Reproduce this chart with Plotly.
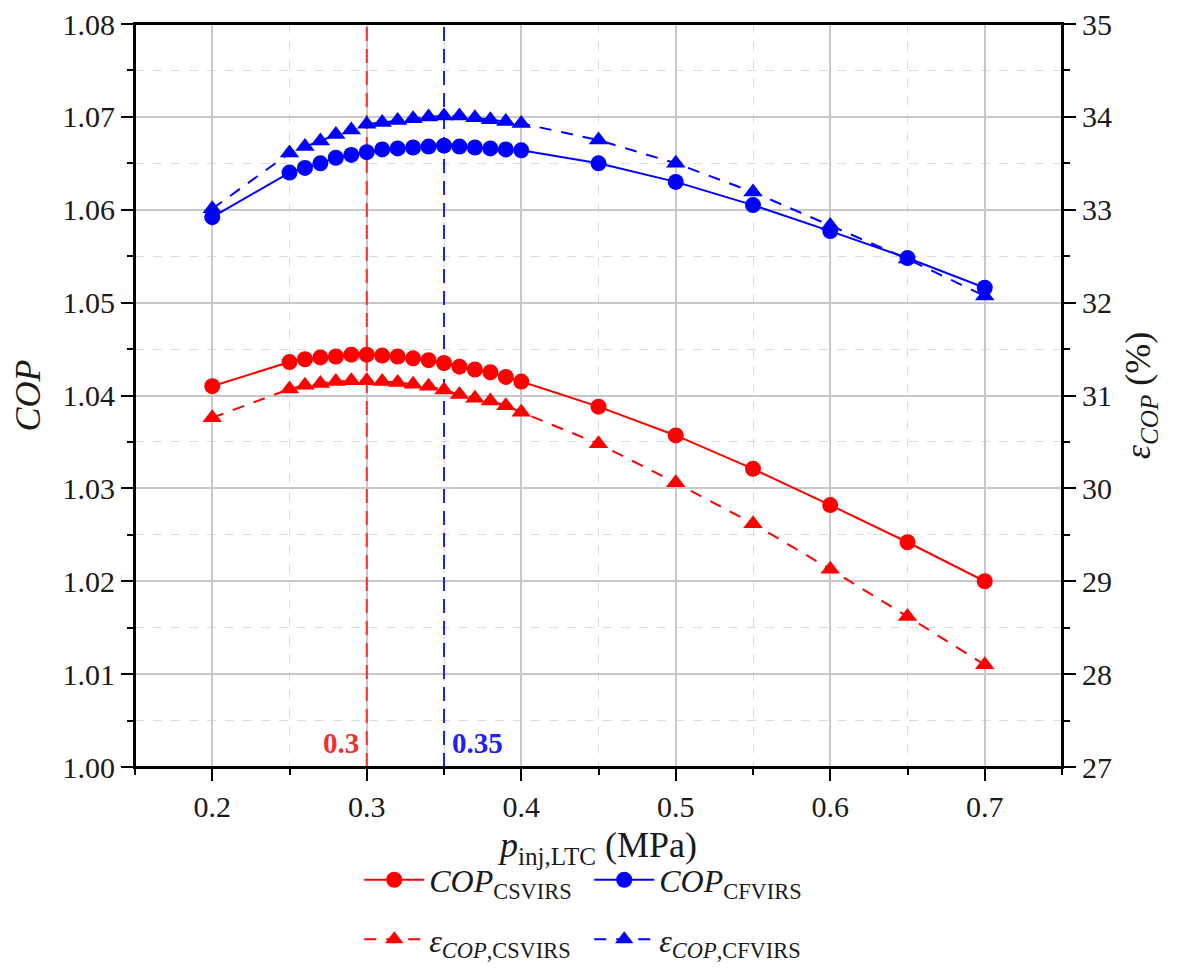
import plotly.graph_objects as go

# injection pressure of the LTC (MPa)
p_inj = [0.20, 0.25, 0.26, 0.27, 0.28, 0.29, 0.30, 0.31, 0.32, 0.33, 0.34, 0.35,
         0.36, 0.37, 0.38, 0.39, 0.40, 0.45, 0.50, 0.55, 0.60, 0.65, 0.70]

# COP of both systems (left axis)
cop_csvirs = [1.0410, 1.0436, 1.0439, 1.0441, 1.0442, 1.0444, 1.0444, 1.0443, 1.0442, 1.0440, 1.0438, 1.0435,
              1.0431, 1.0428, 1.0425, 1.0420, 1.0415, 1.0388, 1.0357, 1.0321, 1.0282, 1.0242, 1.0200]
cop_cfvirs = [1.0592, 1.0640, 1.0645, 1.0650, 1.0656, 1.0659, 1.0662, 1.0665, 1.0666, 1.0667, 1.0668, 1.0669,
              1.0668, 1.0667, 1.0666, 1.0665, 1.0664, 1.0650, 1.0630, 1.0605, 1.0577, 1.0548, 1.0516]

# exergy efficiency (%) (right axis)
eps_csvirs = [30.76, 31.07, 31.11, 31.13, 31.15, 31.16, 31.16, 31.15, 31.14, 31.12, 31.10, 31.06,
              31.01, 30.97, 30.94, 30.89, 30.82, 30.48, 30.06, 29.62, 29.13, 28.62, 28.10]
eps_cfvirs = [33.01, 33.61, 33.68, 33.74, 33.81, 33.86, 33.92, 33.94, 33.96, 33.98, 34.00, 34.01,
              34.01, 33.99, 33.97, 33.95, 33.93, 33.75, 33.50, 33.19, 32.83, 32.47, 32.07]

# optimum injection pressures marked on the chart
opt_p = [0.3, 0.35]
opt_labels = ["0.3", "0.35"]

COP_RANGE = [1.0, 1.08]
EPS_RANGE = [27, 35]

RED = "#ff0000"
BLUE = "#0000ff"
FONT = "Liberation Serif, Times New Roman, serif"
TXT = "#1a1a1a"

fig = go.Figure()

# vertical dashed markers for the optimum pressures (drawn first, under the curves)
for p, lab, col in zip(opt_p, opt_labels, ["#f03030", "#2020ff"]):
    fig.add_trace(go.Scatter(
        x=[p, p], y=COP_RANGE, mode="lines", showlegend=False, hoverinfo="skip",
        line=dict(color=col, width=2, dash="14px,8px")))
    first = p == opt_p[0]
    fig.add_annotation(x=p, y=0.008, xref="x", yref="paper",
                       text="<b>" + lab + "</b>", showarrow=False,
                       xanchor="right" if first else "left", yanchor="bottom",
                       xshift=-6 if first else 6,
                       font=dict(family=FONT, size=29, color=col))

fig.add_trace(go.Scatter(
    x=p_inj, y=cop_csvirs, name="<i>COP</i><sub>CSVIRS</sub>",
    mode="lines+markers", line=dict(color=RED, width=2),
    marker=dict(symbol="circle", size=16, color=RED),
    legend="legend"))
fig.add_trace(go.Scatter(
    x=p_inj, y=cop_cfvirs, name="<i>COP</i><sub>CFVIRS</sub>",
    mode="lines+markers", line=dict(color=BLUE, width=2),
    marker=dict(symbol="circle", size=16, color=BLUE),
    legend="legend"))
fig.add_trace(go.Scatter(
    x=p_inj, y=eps_csvirs, name="<i>ε</i><sub><i>COP</i>,CSVIRS</sub>",
    mode="lines+markers", line=dict(color=RED, width=2, dash="12px,10px"),
    marker=dict(symbol="triangle-up", size=17, color=RED),
    yaxis="y2", legend="legend2"))
fig.add_trace(go.Scatter(
    x=p_inj, y=eps_cfvirs, name="<i>ε</i><sub><i>COP</i>,CFVIRS</sub>",
    mode="lines+markers", line=dict(color=BLUE, width=2, dash="12px,10px"),
    marker=dict(symbol="triangle-up", size=17, color=BLUE),
    yaxis="y2", legend="legend2"))

# plot frame (top edge included)
fig.add_shape(type="rect", xref="paper", yref="paper", x0=0, x1=1, y0=0, y1=1,
              line=dict(color="black", width=2), layer="above")

axis_common = dict(
    showline=True, linecolor="black", linewidth=2,
    ticks="outside", ticklen=12, tickwidth=2, tickcolor="black",
    tickfont=dict(family=FONT, size=30, color=TXT),
    ticklabeloverflow="allow",
    zeroline=False, automargin=False,
)

fig.update_layout(
    width=1182, height=978,
    # the page body adds 8px, so margins are trimmed by that amount
    margin=dict(l=127, r=128, t=16, b=219),
    paper_bgcolor="white", plot_bgcolor="white",
    font=dict(family=FONT, size=30, color=TXT),
    showlegend=True,
    xaxis=dict(
        range=[0.15, 0.75], tick0=0.2, dtick=0.1, tickformat=".1f",
        mirror=True,
        showgrid=True, gridcolor="#c8c8c8", gridwidth=1.5,
        minor=dict(dtick=0.05, tick0=0.15, ticks="outside", ticklen=6, tickwidth=2,
                   tickcolor="black", showgrid=True, gridcolor="#dcdcdc",
                   griddash="dash", gridwidth=1),
        title=dict(text="<i>p</i><sub>inj,LTC</sub> (MPa)",
                   font=dict(family=FONT, size=36, color=TXT), standoff=10),
        **axis_common),
    yaxis=dict(
        range=COP_RANGE, tick0=1.0, dtick=0.01, tickformat=".2f",
        showgrid=True, gridcolor="#c8c8c8", gridwidth=1.5,
        minor=dict(dtick=0.005, ticks="outside", ticklen=6, tickwidth=2,
                   tickcolor="black", showgrid=True, gridcolor="#dcdcdc",
                   griddash="dash", gridwidth=1),
        title=dict(text="<i>COP</i>", font=dict(family=FONT, size=36, color=TXT),
                   standoff=12),
        **axis_common),
    yaxis2=dict(
        range=EPS_RANGE, tick0=27, dtick=1, overlaying="y", side="right",
        showgrid=False,
        minor=dict(dtick=0.5, ticks="outside", ticklen=6, tickwidth=2, tickcolor="black"),
        title=dict(text="<i>ε</i><sub><i>COP</i></sub> (%)",
                   font=dict(family=FONT, size=36, color=TXT), standoff=14),
        **axis_common),
    legend=dict(orientation="h", x=0.49, xanchor="center", y=-0.152, yanchor="middle",
                entrywidth=155, itemwidth=60, bgcolor="rgba(0,0,0,0)",
                font=dict(family=FONT, size=32, color=TXT)),
    legend2=dict(orientation="h", x=0.49, xanchor="center", y=-0.232, yanchor="middle",
                 entrywidth=155, itemwidth=60, bgcolor="rgba(0,0,0,0)",
                 font=dict(family=FONT, size=32, color=TXT)),
)

fig.write_html("out.html")
